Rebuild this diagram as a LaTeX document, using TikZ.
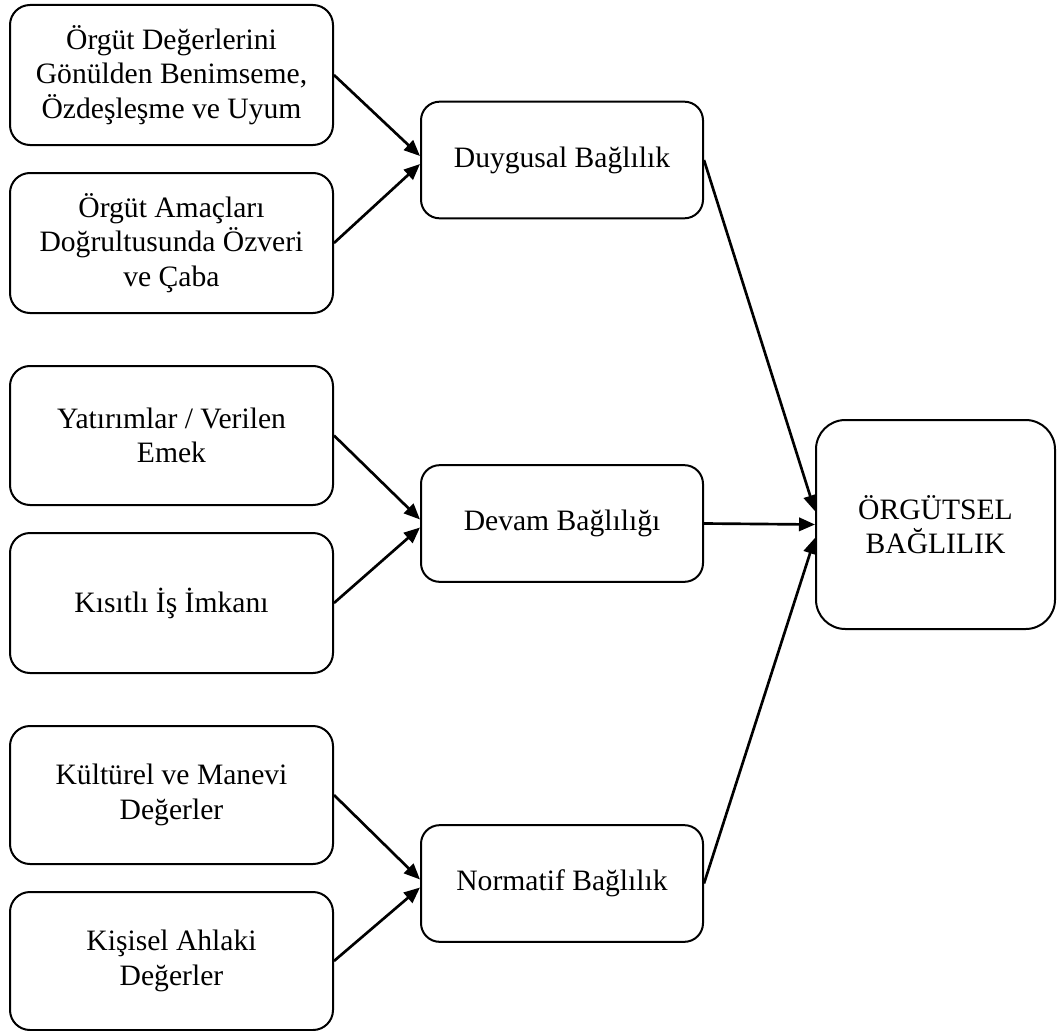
\documentclass[tikz,border=0pt]{standalone}
\usepackage{fontspec}
\setmainfont{Liberation Serif}
\usetikzlibrary{arrows.meta}
\begin{document}
\begin{tikzpicture}[x=0.75pt,y=-0.75pt,
  box/.style={draw,line width=1.5pt,rounded corners=15pt,align=center,inner sep=0pt,
    font=\fontsize{22.2}{25.8}\selectfont},
  leftbox/.style={box,minimum width=242.25pt,minimum height=105pt},
  midbox/.style={box,minimum width=211.5pt,minimum height=87.5pt,rounded corners=14pt},
  bigbox/.style={box,minimum width=179.25pt,minimum height=156.75pt,rounded corners=22pt},
  conn/.style={line width=2pt,-{Triangle[length=12pt,width=10pt]}}]
\useasboundingbox (0,0) rectangle (1057,1031);
% left boxes
\node[leftbox] (l1) at (171.5,75) {Örgüt Değerlerini\\Gönülden Benimseme,\\Özdeşleşme ve Uyum};
\node[leftbox] (l2) at (171.5,243) {Örgüt Amaçları\\Doğrultusunda Özveri\\ve Çaba};
\node[leftbox,minimum height=104.25pt] (l3) at (171.5,435.5) {Yatırımlar / Verilen\\Emek};
\node[leftbox] (l4) at (171.5,603) {Kısıtlı İş İmkanı};
\node[leftbox,minimum height=103.5pt] (l5) at (171.5,795) {Kültürel ve Manevi\\Değerler};
\node[leftbox,minimum height=103.5pt] (l6) at (171.5,961) {Kişisel Ahlaki\\Değerler};
% middle boxes
\node[midbox] (duy) at (562,160) {Duygusal Bağlılık};
\node[midbox] (dev) at (562,523.5) {Devam Bağlılığı};
\node[midbox] (nor) at (562,883.5) {Normatif Bağlılık};
% right box
\node[bigbox] (org) at (935.5,524.5) {ÖRGÜTSEL\\BAĞLILIK};
% connectors
\draw[conn] (l1.east) -- ([yshift=3pt]duy.west);
\draw[conn] (l2.east) -- ([yshift=-3pt]duy.west);
\draw[conn] (l3.east) -- ([yshift=3pt]dev.west);
\draw[conn] (l4.east) -- ([yshift=-3pt]dev.west);
\draw[conn] (l5.east) -- ([yshift=3pt]nor.west);
\draw[conn] (l6.east) -- ([yshift=-3pt]nor.west);
\draw[conn] (duy.east) -- ([yshift=10pt]org.west);
\draw[conn] (dev.east) -- (org.west);
\draw[conn] (nor.east) -- ([yshift=-10pt]org.west);
\end{tikzpicture}
\end{document}
